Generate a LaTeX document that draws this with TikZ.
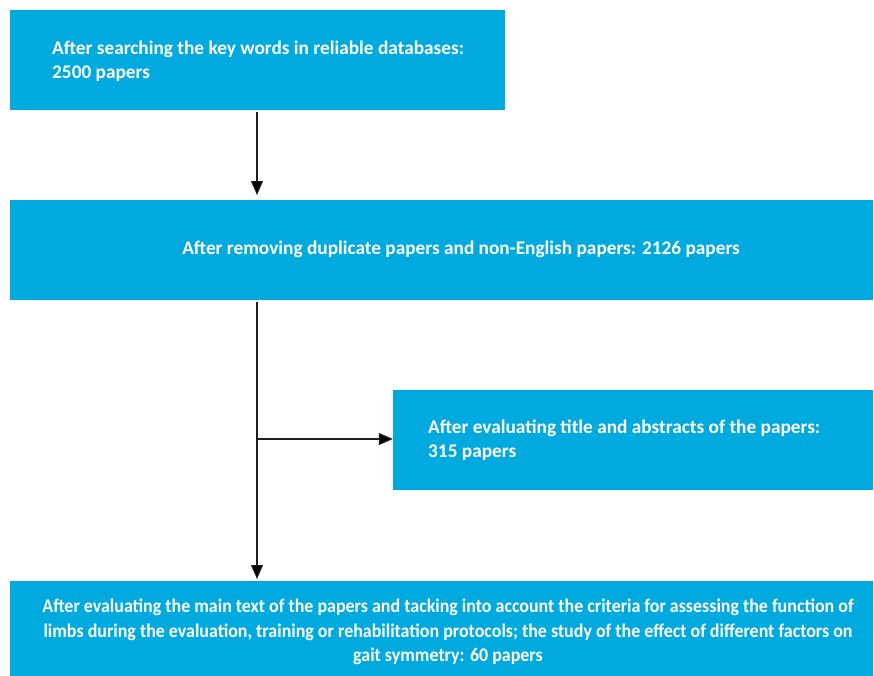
\documentclass[tikz,border=0pt]{standalone}
\usepackage{fontspec}
\setmainfont{Carlito}
\newfontfamily\condfont[FakeStretch=0.93]{Carlito}
\usetikzlibrary{arrows.meta}
\definecolor{boxblue}{RGB}{0,170,222}
\definecolor{lineclr}{RGB}{30,30,30}
\begin{document}
\begin{tikzpicture}[x=1pt,y=-1pt,
  box/.style={fill=boxblue,draw=none,inner sep=0pt},
  txt/.style={text=white,font=\fontsize{19.3}{23.5}\selectfont\bfseries,inner sep=0pt},
  conn/.style={draw=lineclr,line width=1.2pt,-{Triangle[length=14pt,width=12pt,fill=black]}}]
\useasboundingbox (0,0) rectangle (874,675);
\node[box,minimum width=495pt,minimum height=100pt] (b1) at (257.5,60) {};
\node[box,minimum width=863pt,minimum height=100pt] (b2) at (441.5,250) {};
\node[box,minimum width=480pt,minimum height=100pt] (b3) at (633,440) {};
\node[box,minimum width=863pt,minimum height=95pt] (b4) at (441.5,628.5) {};
\node[txt,anchor=west,align=left] (t1) at (52,61) {After searching the key words in reliable databases:\\2500 papers};
\node[txt] (t2) at (461,249) {After removing duplicate papers and non-English papers: 2126 papers};
\node[txt,anchor=west,align=left] (t3) at (428,440) {After evaluating title and abstracts of the papers:\\315 papers};
\node[txt,align=center,font=\condfont\fontsize{19.3}{24.5}\selectfont\bfseries] (t4) at (448,632) {After evaluating the main text of the papers and tacking into account the criteria for assessing the function of\\limbs during the evaluation, training or rehabilitation protocols; the study of the effect of different factors on\\gait symmetry: 60 papers};
\coordinate (a1) at (257,112);
\coordinate (a2) at (257,195);
\coordinate (c1) at (257,302);
\coordinate (c4) at (257,579);
\coordinate (j) at (257,439);
\draw[conn] (a1) -- (a2);
\draw[conn] (c1) -- (c4);
\draw[conn] (j) -- (b3.west |- j);
\end{tikzpicture}
\end{document}
